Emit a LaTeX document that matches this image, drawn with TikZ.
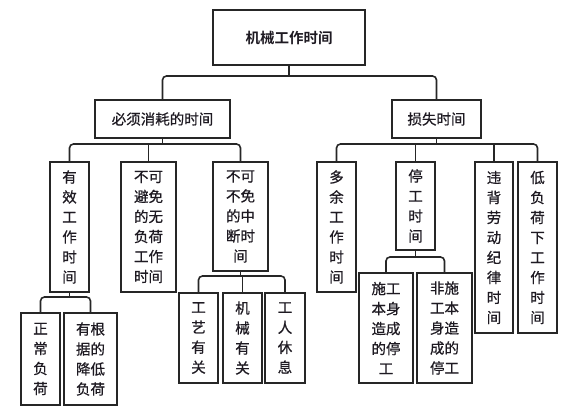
\documentclass[tikz,border=0pt]{standalone}
\usepackage{fontspec}
\newfontfamily\cjk[FakeBold=0.7]{Noto Sans CJK SC}
\newfontfamily\cjkb{Noto Sans CJK SC Bold}
\definecolor{linec}{HTML}{262626}
\definecolor{txt}{HTML}{1E1A22}
\begin{document}
\begin{tikzpicture}[x=1pt,y=-1pt]
\tikzset{
  box/.style={draw=linec, line width=1.8pt, align=center, text=txt, inner sep=0pt,
    font=\cjk\fontsize{14.5}{20}\selectfont},
  conn/.style={draw=linec, line width=1.6pt, rounded corners=4pt},
  stub/.style={draw=linec, line width=1.6pt},
}
\useasboundingbox[fill=white] (0,0) rectangle (575,412);
% level 0
\node[box, minimum width=152pt, minimum height=55pt, font=\cjkb\fontsize{14.5}{20}\selectfont] (root) at (289,37.5) {机械工作时间};
% level 1
\node[box, minimum width=135pt, minimum height=38pt] (bx) at (162.5,119) {必须消耗的时间};
\node[box, minimum width=89pt, minimum height=38pt] (ss) at (436.5,119) {损失时间};
% level 2 left
\node[box, minimum width=39pt, minimum height=130pt] (yx) at (69.5,227) {有\\效\\工\\作\\时\\间};
\node[box, minimum width=55pt, minimum height=130pt] (bkbm) at (148.5,227) {不可\\避免\\的无\\负荷\\工作\\时间};
\node[box, minimum width=55pt, minimum height=109pt] (zd) at (240.5,216.5) {不可\\不免\\的中\\断时\\间};
% level 2 right
\node[box, minimum width=39pt, minimum height=130pt] (dy) at (336.5,227) {多\\余\\工\\作\\时\\间};
\node[box, minimum width=39pt, minimum height=88pt] (tg) at (415.5,206) {停\\工\\时\\间};
\node[box, minimum width=38pt, minimum height=171pt] (wb) at (494,247.5) {违\\背\\劳\\动\\纪\\律\\时\\间};
\node[box, minimum width=39pt, minimum height=171pt] (dfh) at (537.5,247.5) {低\\负\\荷\\下\\工\\作\\时\\间};
% level 3
\node[box, minimum width=39pt, minimum height=92pt] (zc) at (40.5,359) {正\\常\\负\\荷};
\node[box, minimum width=53pt, minimum height=92pt] (ygj) at (90.5,359) {有根\\据的\\降低\\负荷};
\node[box, minimum width=39pt, minimum height=90pt] (gy) at (198.5,338) {工\\艺\\有\\关};
\node[box, minimum width=39pt, minimum height=90pt] (jx) at (242.5,338) {机\\械\\有\\关};
\node[box, minimum width=40pt, minimum height=90pt] (gr) at (285,338) {工\\人\\休\\息};
\node[box, minimum width=54pt, minimum height=110pt] (sg) at (386,328) {施工\\本身\\造成\\的停\\工};
\node[box, minimum width=55pt, minimum height=110pt] (fsg) at (444.5,328) {非施\\工本\\身造\\成的\\停工};
% bus coordinates
\coordinate (b0) at (0,76);
\coordinate (b1) at (0,144);
\coordinate (b2) at (0,144);
\coordinate (b3) at (0,297);
\coordinate (b4) at (0,276);
\coordinate (b5) at (0,257);
% connectors
\draw[stub] (root.south) -- (root.south|-b0);
\draw[conn] (bx.north) -- (bx.north|-b0) -- (ss.north|-b0) -- (ss.north);
\draw[stub] (bx.south) -- (bx.south|-b1);
\draw[conn] (yx.north) -- (yx.north|-b1) -- (zd.north|-b1) -- (zd.north);
\draw[stub] (bkbm.north) -- (bkbm.north|-b1);
\draw[stub] (ss.south) -- (ss.south|-b2);
\draw[conn] (dy.north) -- (dy.north|-b2) -- (dfh.north|-b2) -- (dfh.north);
\draw[stub] (tg.north) -- (tg.north|-b2);
\draw[stub] (wb.north) -- (wb.north|-b2);
\draw[stub] (yx.south) -- (yx.south|-b3);
\draw[conn] (zc.north) -- (zc.north|-b3) -- (ygj.north|-b3) -- (ygj.north);
\draw[stub] (zd.south) -- (zd.south|-b4);
\draw[conn] (gy.north) -- (gy.north|-b4) -- (gr.north|-b4) -- (gr.north);
\draw[stub] (jx.north) -- (jx.north|-b4);
\draw[stub] (tg.south) -- (tg.south|-b5);
\draw[conn] (sg.north) -- (sg.north|-b5) -- (fsg.north|-b5) -- (fsg.north);
\end{tikzpicture}
\end{document}
